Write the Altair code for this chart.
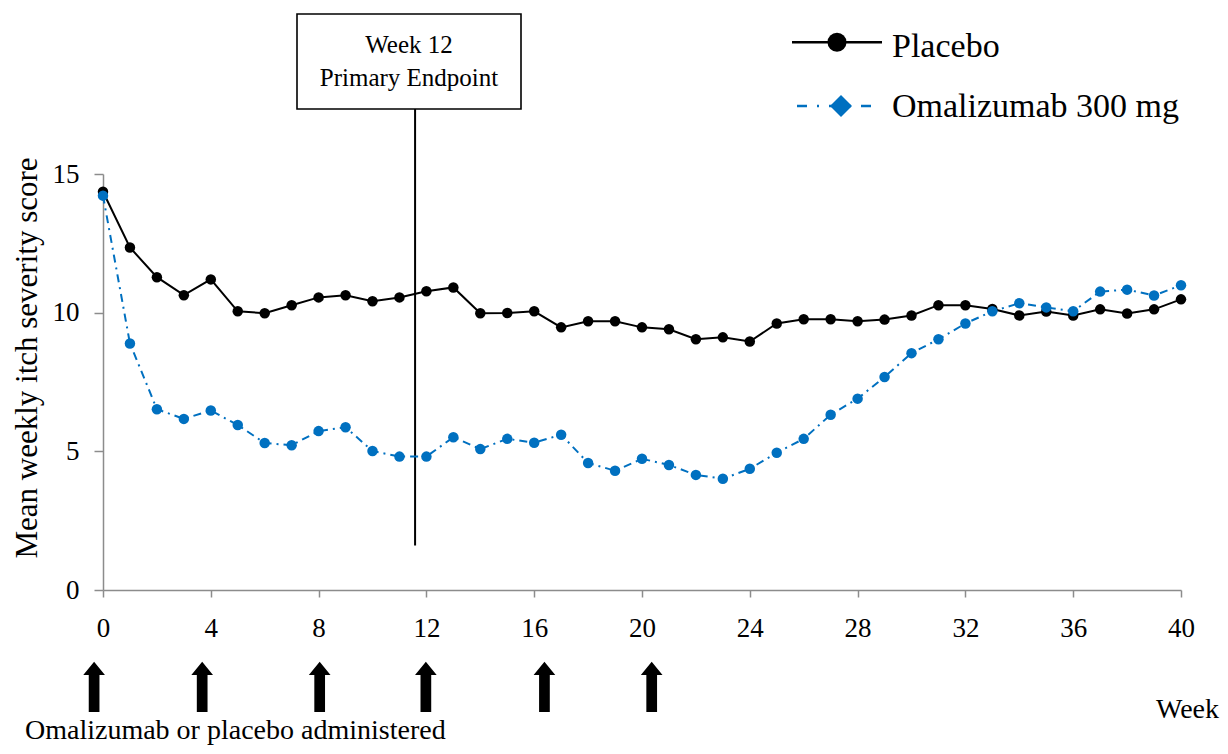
import altair as alt
import pandas as pd

# ---------------- data ----------------
weeks = list(range(0, 41))
placebo = [14.36, 12.35, 11.28, 10.63, 11.20, 10.05, 9.98, 10.27, 10.55, 10.63,
           10.41, 10.55, 10.77, 10.91, 9.98, 9.99, 10.05, 9.47, 9.69, 9.69,
           9.47, 9.40, 9.04, 9.11, 8.96, 9.61, 9.76, 9.76, 9.69, 9.75,
           9.90, 10.27, 10.27, 10.13, 9.90, 10.04, 9.90, 10.12, 9.97, 10.12, 10.48]
omalizumab = [14.22, 8.89, 6.52, 6.17, 6.47, 5.95, 5.30, 5.22, 5.73, 5.87,
              5.01, 4.81, 4.81, 5.51, 5.08, 5.45, 5.31, 5.60, 4.58, 4.30,
              4.73, 4.51, 4.15, 4.01, 4.37, 4.95, 5.45, 6.32, 6.90, 7.68,
              8.54, 9.04, 9.61, 10.05, 10.34, 10.19, 10.05, 10.76, 10.83, 10.62, 10.99]
series_names = ["Placebo", "Omalizumab 300 mg"]
x_ticks = list(range(0, 41, 4))
y_ticks = [0, 5, 10, 15]
dose_weeks = [-0.33, 3.68, 8.04, 11.98, 16.38, 20.36]
endpoint_week = [11.58]
box_lines = ["Week 12", "Primary Endpoint"]
y_title = "Mean weekly itch severity score"
x_title = "Week"
dose_caption = "Omalizumab or placebo administered"

# ---------------- styling ----------------
FONT = "Liberation Serif"
BLACK = "#000000"
BLUE = "#0070C0"
GREY = "#8c8c8c"
W, H = 1078, 416

df_p = pd.DataFrame({"week": weeks, "score": placebo, "series": series_names[0]})
df_o = pd.DataFrame({"week": weeks, "score": omalizumab, "series": series_names[1]})

x_enc = alt.X(
    "week:Q",
    scale=alt.Scale(domain=[0, 40], nice=False, zero=False),
    axis=alt.Axis(
        values=x_ticks, grid=False, labelFont=FONT, labelFontSize=27,
        labelColor=BLACK, labelPadding=18, tickSize=7, tickColor=GREY,
        tickWidth=1.5, domainColor=GREY, domainWidth=1.5,
        title=x_title, titleFont=FONT, titleFontSize=28, titleFontWeight="normal",
        titleColor=BLACK, titleX=1084, titleY=127, titleAlign="center",
        titleBaseline="alphabetic", labelFlush=False,
    ),
)
y_enc = alt.Y(
    "score:Q",
    scale=alt.Scale(domain=[0, 15], nice=False, zero=True),
    axis=alt.Axis(
        values=y_ticks, grid=False, labelFont=FONT, labelFontSize=27,
        labelColor=BLACK, labelPadding=15, tickSize=9, tickColor=GREY,
        tickWidth=1.5, domainColor=GREY, domainWidth=1.5,
        title=y_title, titleFont=FONT, titleFontSize=31, titleFontWeight="normal",
        titleColor=BLACK, titleAngle=270, titleX=-76, titleY=183.5,
        titleAlign="center", titleBaseline="middle", labelFlush=False,
    ),
)

# endpoint annotation
endpoint_rule = alt.Chart(pd.DataFrame({"week": endpoint_week})).mark_rule(
    color=BLACK, strokeWidth=2
).encode(x=alt.X("week:Q"), y=alt.value(-65), y2=alt.value(371.5))

box = alt.Chart(pd.DataFrame({"k": [0]})).mark_rect(
    fill="white", stroke=BLACK, strokeWidth=1.6
).encode(x=alt.value(194), x2=alt.value(418), y=alt.value(-160), y2=alt.value(-65))

box_text1 = alt.Chart(pd.DataFrame({"t": [box_lines[0]]})).mark_text(
    font=FONT, fontSize=25, color=BLACK, align="center", baseline="alphabetic"
).encode(text="t:N", x=alt.value(306), y=alt.value(-121))
box_text2 = alt.Chart(pd.DataFrame({"t": [box_lines[1]]})).mark_text(
    font=FONT, fontSize=25, color=BLACK, align="center", baseline="alphabetic"
).encode(text="t:N", x=alt.value(306), y=alt.value(-88.5))

# data series
line_p = alt.Chart(df_p).mark_line(color=BLACK, strokeWidth=2).encode(x=x_enc, y=y_enc)
pts_p = alt.Chart(df_p).mark_point(
    filled=True, shape="circle", size=110, color=BLACK, opacity=1
).encode(x=x_enc, y=y_enc)
line_o = alt.Chart(df_o).mark_line(
    color=BLUE, strokeWidth=2, strokeDash=[8, 5, 2, 5]
).encode(x=x_enc, y=y_enc)
pts_o = alt.Chart(df_o).mark_point(
    filled=True, shape="circle", size=110, color=BLUE, opacity=1
).encode(x=x_enc, y=y_enc)

# dosing arrows
ARROW = "M0,-1L0.431,-0.471L0.213,-0.471L0.213,1L-0.213,1L-0.213,-0.471L-0.431,-0.471Z"
arrows = alt.Chart(pd.DataFrame({"week": dose_weeks})).mark_point(
    shape=ARROW, size=2530, filled=True, color=BLACK, opacity=1
).encode(x=alt.X("week:Q"), y=alt.value(512.85))

caption = alt.Chart(pd.DataFrame({"t": [dose_caption]})).mark_text(
    font=FONT, fontSize=28, color=BLACK, align="left", baseline="alphabetic"
).encode(text="t:N", x=alt.value(-78), y=alt.value(565))

# legend (drawn manually)
leg_y = [-131.7, -68]
leg_text_y = [-117.3, -57]
leg_p_line = alt.Chart(pd.DataFrame({"k": [0]})).mark_rule(color=BLACK, strokeWidth=2.5).encode(
    x=alt.value(689), x2=alt.value(779), y=alt.value(leg_y[0]))
leg_p_pt = alt.Chart(pd.DataFrame({"k": [0]})).mark_point(
    filled=True, shape="circle", size=361, color=BLACK, opacity=1).encode(
    x=alt.value(734), y=alt.value(leg_y[0]))
leg_o_line = alt.Chart(pd.DataFrame({"k": [0]})).mark_rule(
    color=BLUE, strokeWidth=2.5, strokeDash=[10, 10, 2, 10]).encode(
    x=alt.value(694), x2=alt.value(770), y=alt.value(leg_y[1]))
leg_o_pt = alt.Chart(pd.DataFrame({"k": [0]})).mark_point(
    filled=True, shape="diamond", size=484, color=BLUE, opacity=1).encode(
    x=alt.value(738), y=alt.value(leg_y[1]))
leg_t1 = alt.Chart(pd.DataFrame({"t": [series_names[0]]})).mark_text(
    font=FONT, fontSize=34, color=BLACK, align="left", baseline="alphabetic").encode(
    text="t:N", x=alt.value(789), y=alt.value(leg_text_y[0]))
leg_t2 = alt.Chart(pd.DataFrame({"t": [series_names[1]]})).mark_text(
    font=FONT, fontSize=34, color=BLACK, align="left", baseline="alphabetic").encode(
    text="t:N", x=alt.value(789), y=alt.value(leg_text_y[1]))

chart = alt.layer(
    line_p, endpoint_rule, box, box_text1, box_text2,
    pts_p, line_o, pts_o, arrows, caption,
    leg_p_line, leg_p_pt, leg_o_line, leg_o_pt, leg_t1, leg_t2,
).properties(
    width=W, height=H,
    autosize=alt.AutoSizeParams(type="none"),
    padding={"left": 95, "top": 166, "right": 39, "bottom": 156},
).configure(
    background="white", view=alt.ViewConfig(stroke=None)
)

chart.save("out.html", embed_options={"renderer": "svg", "actions": False})
